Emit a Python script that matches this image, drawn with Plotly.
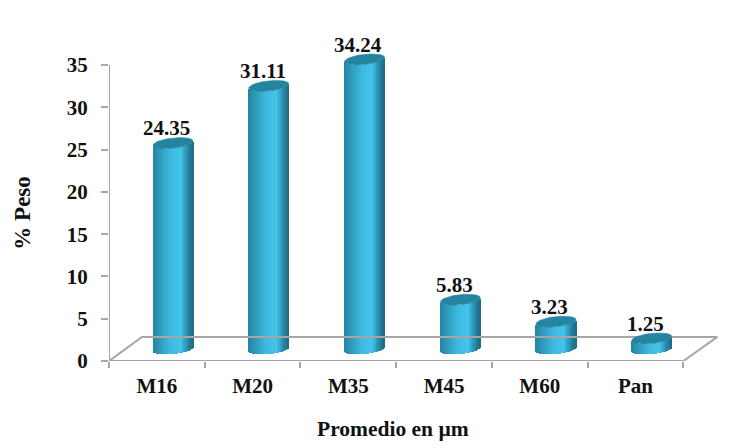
import math
import plotly.graph_objects as go

categories = ["M16", "M20", "M35", "M45", "M60", "Pan"]
values = [24.35, 31.11, 34.24, 5.83, 3.23, 1.25]
y_ticks = [0, 5, 10, 15, 20, 25, 30, 35]

SERIF = "Liberation Serif"
AXIS_GREY = "#A6A6A6"
TOP_COLOR = "#25849F"
INK = "#111111"

# Cylinder geometry in axis units
OFFSET = 0.67       # cylinder centre inside each category slot
RX = 0.209          # half width
RY = 0.60           # vertical radius of the end ellipses
TILT = 0.24         # rise of the ellipse towards its right side
FLOOR_Y = 1.42      # height of the cylinder base on the floor
N_STRIPS = 48


def shade(t):
    # t runs 0..1 across the cylinder: dark edges, bright band right of centre
    stops = [(0.0, (38, 132, 160)), (0.18, (46, 154, 186)), (0.45, (62, 186, 224)),
             (0.70, (68, 196, 234)), (0.90, (38, 130, 160)), (1.0, (30, 108, 134))]
    for (a, ca), (b, cb) in zip(stops, stops[1:]):
        if t <= b:
            f = (t - a) / (b - a)
            return "rgb(%d,%d,%d)" % tuple(round(p + (q - p) * f) for p, q in zip(ca, cb))
    return "rgb(30,108,134)"


fig = go.Figure()

# Box outline: value axis, then the floor with the category axis as its front edge
axis_line = dict(color=AXIS_GREY, width=2)
fig.add_trace(go.Scatter(x=[0, 0], y=[0, 35], mode="lines", line=axis_line,
                         hoverinfo="skip", showlegend=False))
floor_x = [0, 0.345, 6.355, 6.0, 0]
floor_y = [0, 2.85, 2.85, 0, 0]
fig.add_trace(go.Scatter(x=floor_x, y=floor_y, mode="lines", line=axis_line,
                         hoverinfo="skip", showlegend=False))

for i, (cat, val) in enumerate(zip(categories, values)):
    cx = i + OFFSET
    xs, bases, colors = [], [], []
    for k in range(N_STRIPS):
        t = (k + 0.5) / N_STRIPS
        u = 2 * t - 1
        xs.append(cx + RX * u)
        bases.append(FLOOR_Y - RY * math.sqrt(1 - u * u) + TILT * u)
        colors.append(shade(t))
    # Cylinder body: narrow adjoining bars that follow the lower ellipse
    fig.add_trace(go.Bar(x=xs, y=[val] * N_STRIPS, base=bases,
                         width=2 * RX / N_STRIPS * 1.25,
                         marker=dict(color=colors, line=dict(width=0)),
                         hoverinfo="skip", showlegend=False))
    # Cylinder cap
    angles = [2 * math.pi * j / 72 for j in range(73)]
    fig.add_trace(go.Scatter(
        x=[cx + RX * math.cos(a) for a in angles],
        y=[FLOOR_Y + val + RY * math.sin(a) + TILT * math.cos(a) for a in angles],
        mode="lines", fill="toself", fillcolor=TOP_COLOR, line=dict(color=TOP_COLOR, width=0.5),
        hoverinfo="skip", showlegend=False))
    # Value label above the cap
    fig.add_annotation(x=cx - 0.065, y=FLOOR_Y + val + 1.75, text=f"<b>{val:.2f}</b>", showarrow=False,
                       font=dict(family=SERIF, size=21, color=INK), xanchor="center", yanchor="middle")

# Axis titles, placed relative to the plot area so they centre on the box and not the extended range
fig.add_annotation(xref="paper", yref="paper", x=0.461, y=-0.244, text="<b>Promedio en µm</b>",
                   showarrow=False, font=dict(family=SERIF, size=21.5, color=INK))
fig.add_annotation(xref="paper", yref="paper", x=-0.164, y=0.44, text="<b>% Peso</b>", textangle=-90,
                   showarrow=False, font=dict(family=SERIF, size=23, color=INK))

fig.update_layout(
    width=739, height=448, autosize=False,
    margin=dict(l=109, r=14, t=25, b=87),
    paper_bgcolor="white", plot_bgcolor="white",
    barmode="overlay", bargap=0, showlegend=False,
    font=dict(family=SERIF, color=INK),
)
fig.update_xaxes(
    range=[0, 6.435], showgrid=False, zeroline=False, showline=False,
    tickmode="array", tickvals=[i + 0.5 for i in range(6)], ticktext=[f"<b>{c}</b>" for c in categories],
    ticks="", tickfont=dict(family=SERIF, size=21, color=INK), ticklabelstandoff=10,
    minor=dict(tickmode="array", tickvals=list(range(7)), ticks="outside", ticklen=6,
               tickwidth=2, tickcolor=AXIS_GREY),
)
fig.update_yaxes(
    range=[0, 336 / 8.457], showgrid=False, zeroline=False, showline=False,
    tickmode="array", tickvals=y_ticks, ticktext=[f"<b>{v}</b>" for v in y_ticks],
    ticks="outside", ticklen=7, tickwidth=2, tickcolor=AXIS_GREY,
    tickfont=dict(family=SERIF, size=21, color=INK), ticklabelstandoff=9,
)

fig.write_html("out.html", config={"displayModeBar": False})
